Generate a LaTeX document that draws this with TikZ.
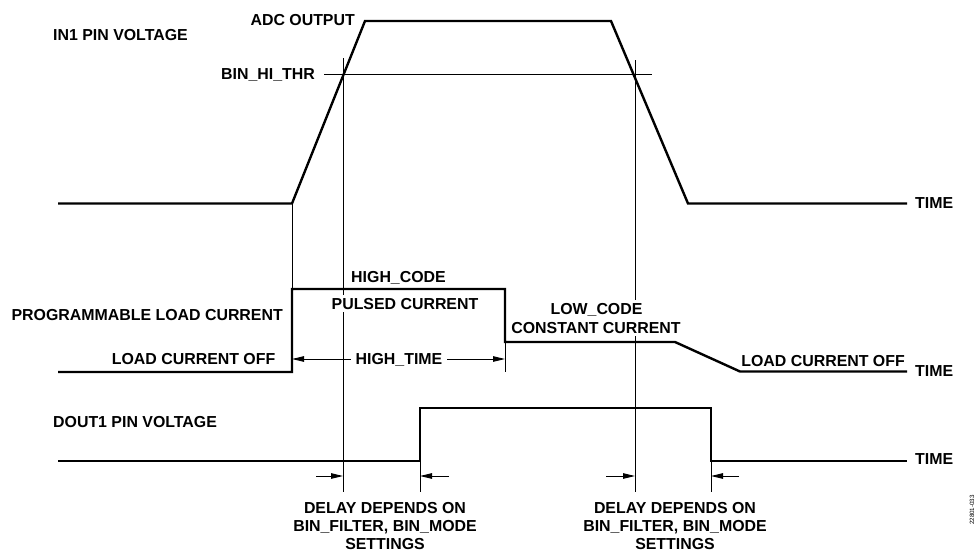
\documentclass[tikz,border=0pt]{standalone}
\usepackage{fontspec}
\setmainfont{Liberation Sans}
\usetikzlibrary{arrows.meta}
\begin{document}
\begin{tikzpicture}[x=1pt,y=-1pt,
  wave/.style={line width=2.4pt, line join=miter},
  guide/.style={line width=1pt},
  lbl/.style={inner sep=0pt, font=\fontsize{15.9}{18}\selectfont\bfseries},
  mask/.style={lbl, fill=white, inner xsep=4pt, inner ysep=3pt},
  tip/.tip={Triangle[length=12pt,width=5.5pt]},
  dim/.style={guide, -tip},
]
\useasboundingbox (0,0) rectangle (980,552);

% ---------- coordinates ----------
% IN1 pin voltage
\coordinate (a0) at (58,203.5);
\coordinate (a1) at (292,203.5);
\coordinate (a2) at (365,21);
\coordinate (a3) at (611,21);
\coordinate (a4) at (688,203.5);
\coordinate (a5) at (907,203.5);
% load current
\coordinate (b0) at (58,372);
\coordinate (b1) at (292,372);
\coordinate (b2) at (292,289);
\coordinate (b3) at (505,289);
\coordinate (b4) at (505,342);
\coordinate (b5) at (675,342);
\coordinate (b6) at (740,371.5);
\coordinate (b7) at (907,371.5);
\coordinate (b4d) at (505,372);
% DOUT1
\coordinate (c0) at (58,461);
\coordinate (c1) at (420,461);
\coordinate (c2) at (420,408);
\coordinate (c3) at (711,408);
\coordinate (c4) at (711,461);
\coordinate (c5) at (907,461);
% guides
\coordinate (thrL) at (324,74);
\coordinate (thrR) at (652,74);
\coordinate (v1t) at (343,58);
\coordinate (v1b) at (343,492);
\coordinate (v2t) at (635,60);
\coordinate (v2b) at (635,492);
\coordinate (c1b) at (420,492);
\coordinate (c4b) at (711,492);
\coordinate (ht0) at (292,359);
\coordinate (ht1) at (505,359);
\coordinate (d1s) at (316,476);
\coordinate (d1e) at (343,476);
\coordinate (d2s) at (449,476);
\coordinate (d2e) at (420,476);
\coordinate (d3s) at (606,476);
\coordinate (d3e) at (635,476);
\coordinate (d4s) at (739,476);
\coordinate (d4e) at (711,476);

% ---------- thin guide lines ----------
\draw[guide] (thrL) -- (thrR);
\draw[guide] (v1t) -- (v1b);
\draw[guide] (v2t) -- (v2b);
\draw[guide] (a1) -- (b2);
\draw[guide] (b4) -- (b4d);
\draw[guide] (c1) -- (c1b);
\draw[guide] (c4) -- (c4b);
\draw[guide, tip-tip] (ht0) -- (ht1);
\draw[dim] (d1s) -- (d1e);
\draw[dim] (d2s) -- (d2e);
\draw[dim] (d3s) -- (d3e);
\draw[dim] (d4s) -- (d4e);

% ---------- waveforms ----------
\draw[wave] (a0) -- (a1) -- (a2) -- (a3) -- (a4) -- (a5);
\draw[wave] (b0) -- (b1) -- (b2) -- (b3) -- (b4) -- (b5) -- (b6) -- (b7);
\draw[wave] (c0) -- (c1) -- (c2) -- (c3) -- (c4) -- (c5);

% ---------- labels ----------
\node[lbl, anchor=base west] (in1) at (53,40.6) {IN1 PIN VOLTAGE};
\node[lbl, anchor=base east] (adc) at (355,25.5) {ADC OUTPUT};
\node[lbl, anchor=base east] (thr) at (315,79.4) {BIN\_HI\_THR};
\node[lbl, anchor=base west] (t1) at (915,208.8) {TIME};
\node[lbl, anchor=base] (hcode) at (398.5,282) {HIGH\_CODE};
\node[mask, anchor=base] (pulsed) at (405,309) {PULSED CURRENT};
\node[lbl, anchor=base east] (prog) at (283,320.7) {PROGRAMMABLE LOAD CURRENT};
\node[lbl, anchor=base east] (off1) at (275.5,364.3) {LOAD CURRENT OFF};
\node[mask, anchor=base, inner xsep=5pt] (htime) at (399,364.3) {HIGH\_TIME};
\node[mask, anchor=base] (lcode) at (596.5,314.2) {LOW\_CODE};
\node[mask, anchor=base] (const) at (596,333) {CONSTANT CURRENT};
\node[lbl, anchor=base east] (off2) at (905,366.5) {LOAD CURRENT OFF};
\node[lbl, anchor=base west] (t2) at (915,376) {TIME};
\node[lbl, anchor=base west] (dout) at (53,427) {DOUT1 PIN VOLTAGE};
\node[lbl, anchor=base west] (t3) at (915,464) {TIME};
\node[lbl, anchor=base] (dl1a) at (385,513) {DELAY DEPENDS ON};
\node[lbl, anchor=base] (dl1b) at (385,531.3) {BIN\_FILTER, BIN\_MODE};
\node[lbl, anchor=base] (dl1c) at (385,549.5) {SETTINGS};
\node[lbl, anchor=base] (dl2a) at (675,513) {DELAY DEPENDS ON};
\node[lbl, anchor=base] (dl2b) at (675,531.3) {BIN\_FILTER, BIN\_MODE};
\node[lbl, anchor=base] (dl2c) at (675,549.5) {SETTINGS};
\node[inner sep=0pt, rotate=90, font=\fontsize{6.2}{7}\selectfont] (fig) at (972,510) {22801-033};
\end{tikzpicture}
\end{document}
